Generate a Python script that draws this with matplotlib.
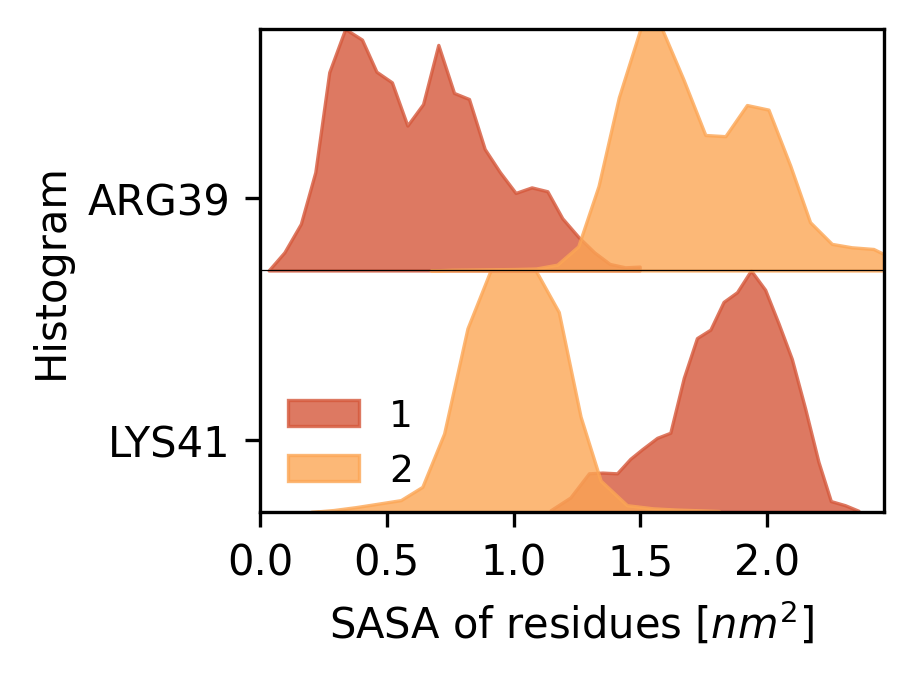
import numpy as np
import matplotlib.pyplot as plt

# residue rows (bottom to top) and the two systems
residues = ["LYS41", "ARG39"]
labels = ["1", "2"]

# ARG39, system 1
arg1_x = [0.034, 0.096, 0.161, 0.218, 0.273, 0.336, 0.402, 0.459, 0.520, 0.581, 0.643,
          0.703, 0.765, 0.824, 0.886, 0.946, 1.008, 1.071, 1.133, 1.192, 1.257, 1.318,
          1.379, 1.440, 1.497]
arg1_y = [0.0, 0.075, 0.193, 0.407, 0.821, 1.0, 0.956, 0.823, 0.779, 0.600, 0.689,
          0.934, 0.735, 0.710, 0.503, 0.407, 0.321, 0.344, 0.328, 0.216, 0.137, 0.075,
          0.027, 0.013, 0.016]

# ARG39, system 2
arg2_x = [0.673, 0.757, 0.840, 0.923, 1.005, 1.088, 1.172, 1.255, 1.335, 1.415, 1.500,
          1.585, 1.670, 1.756, 1.835, 1.920, 2.005, 2.091, 2.169, 2.255, 2.333, 2.419, 2.460]
arg2_y = [0.0, 0.003, 0.004, 0.005, 0.006, 0.008, 0.024, 0.10, 0.35, 0.717, 1.0,
          1.0, 0.79, 0.561, 0.556, 0.685, 0.666, 0.434, 0.20, 0.11, 0.096, 0.089, 0.068]

# LYS41, system 1
lys1_x = [1.146, 1.224, 1.297, 1.350, 1.408, 1.460, 1.507, 1.566, 1.618, 1.671, 1.723,
          1.776, 1.828, 1.881, 1.936, 1.992, 2.045, 2.097, 2.150, 2.202, 2.251, 2.307, 2.360]
lys1_y = [0.007, 0.06, 0.16, 0.163, 0.16, 0.22, 0.26, 0.307, 0.328, 0.555, 0.72,
          0.755, 0.87, 0.91, 1.0, 0.92, 0.78, 0.634, 0.427, 0.208, 0.045, 0.028, 0.005]

# LYS41, system 2
lys2_x = [0.200, 0.290, 0.378, 0.470, 0.555, 0.640, 0.726, 0.818, 0.909, 0.995, 1.087,
          1.178, 1.264, 1.343, 1.447, 1.550, 1.640, 1.730, 1.810]
lys2_y = [0.0, 0.008, 0.02, 0.035, 0.049, 0.104, 0.325, 0.76, 1.0, 1.0, 1.0,
          0.828, 0.395, 0.13, 0.028, 0.015, 0.01, 0.007, 0.004]

c1 = '#d5583b'
c2 = '#fca655'

fig = plt.figure(figsize=(914/300, 678/300), dpi=300)
ax = fig.add_axes([0.2845, 0.2434, 0.6825, 0.7124])

data = [((lys1_x, lys1_y), (lys2_x, lys2_y)),
        ((arg1_x, arg1_y), (arg2_x, arg2_y))]

for off, (s1, s2) in enumerate(data):
    x1 = np.array(s1[0]); y1 = np.array(s1[1])
    x2 = np.array(s2[0]); y2 = np.array(s2[1])
    ax.fill_between(x1, off, off + y1, facecolor=c1, edgecolor=c1, alpha=0.8, lw=0.8,
                    label=labels[0] if off == 0 else None)
    ax.fill_between(x2, off, off + y2, facecolor=c2, edgecolor=c2, alpha=0.8, lw=0.8,
                    label=labels[1] if off == 0 else None)

ax.axhline(1, color='k', lw=0.3, zorder=5)

ax.set_xlim(0, 2.46)
ax.set_ylim(0, 2)
ax.set_yticks([0.3, 1.3])
ax.set_yticklabels(residues, fontsize=10)
ax.set_xticks([0.0, 0.5, 1.0, 1.5, 2.0])
ax.tick_params(axis='x', labelsize=10)
ax.set_xlabel("SASA of residues [$nm^2$]", fontsize=10)
ax.set_ylabel("Histogram", fontsize=10)
ax.legend(loc='lower left', bbox_to_anchor=(-0.01, -0.022), frameon=False,
          fontsize=9, handlelength=1.9)

fig.savefig("out.png", dpi=300)
